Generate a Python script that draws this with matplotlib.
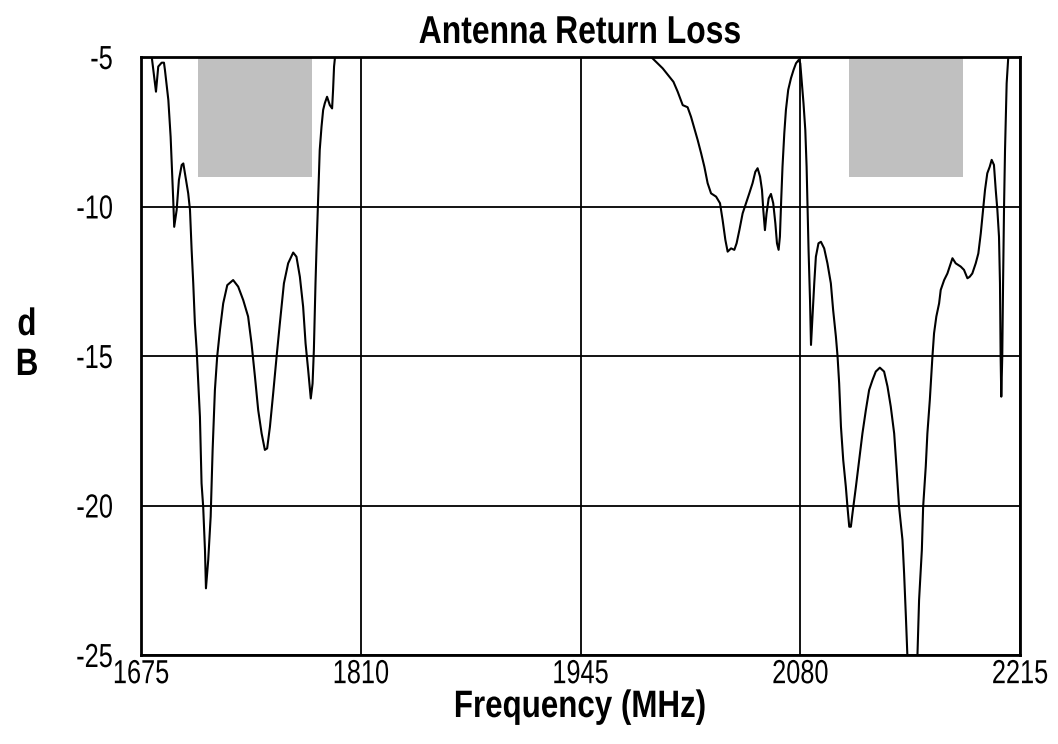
import matplotlib
matplotlib.use("Agg")
import matplotlib.pyplot as plt
from matplotlib import font_manager
from matplotlib.patheffects import AbstractPathEffect
from matplotlib.transforms import Affine2D

# ---- data ----
freq_mhz = [
    1675.0, 1681.6, 1684.2, 1685.6, 1687.7, 1689.1, 1689.7, 1691.8, 1693.2, 1694.8,
    1695.4, 1696.9, 1698.3, 1700.0, 1701.0, 1702.0, 1704.0, 1705.1, 1706.1, 1707.1,
    1708.1, 1709.2, 1711.2, 1712.2, 1713.2, 1714.3, 1714.9, 1716.3, 1717.8, 1719.0,
    1720.4, 1721.8, 1723.5, 1725.5, 1728.0, 1731.6, 1734.7, 1737.8, 1740.8, 1742.9,
    1745.0, 1747.0, 1749.1, 1751.1, 1752.5, 1754.2, 1756.2, 1758.3, 1760.3, 1762.8,
    1765.4, 1768.5, 1770.5, 1772.6, 1774.6, 1776.1, 1777.7, 1779.3, 1780.4, 1781.2,
    1782.2, 1782.8, 1783.8, 1784.8, 1785.9, 1786.9, 1787.9, 1789.3, 1791.0, 1792.4,
    1793.0, 1793.6, 1794.2, 1800.0, 1850.0, 1900.0, 1950.0, 1980.0,
    1988.4, 1991.4, 1995.5, 1999.6, 2002.1, 2004.7, 2007.8, 2010.8, 2012.9, 2014.9,
    2017.0, 2019.1, 2021.1, 2023.1, 2025.2, 2028.3, 2030.7, 2032.3, 2034.0, 2035.4,
    2037.5, 2039.5, 2040.9, 2042.6, 2044.6, 2046.7, 2048.7, 2050.7, 2052.4, 2053.8,
    2055.3, 2056.5, 2057.3, 2058.3, 2059.3, 2060.6, 2062.0, 2063.4, 2064.7, 2065.7,
    2066.7, 2067.5, 2068.3, 2069.1, 2070.2, 2071.2, 2072.6, 2074.3, 2075.9, 2077.4,
    2079.0, 2080.0, 2081.0, 2082.0, 2083.1, 2083.9, 2084.5, 2085.1, 2086.0, 2086.6,
    2087.5, 2088.6, 2089.6, 2091.2, 2092.7, 2094.7, 2096.7, 2098.8, 2100.2, 2101.9,
    2102.9, 2103.9, 2105.0, 2106.4, 2108.0, 2109.0, 2110.1, 2111.1, 2112.1, 2114.2,
    2116.2, 2118.2, 2120.3, 2122.3, 2124.4, 2126.4, 2128.9, 2131.5, 2133.6, 2135.6,
    2137.7, 2139.1, 2140.7, 2142.8, 2143.8, 2144.9, 2145.8, 2148.0, 2150.0, 2152.0,
    2153.0, 2154.7, 2155.5, 2157.1, 2158.1, 2159.6, 2161.2, 2162.2, 2163.6, 2165.3,
    2166.3, 2168.4, 2170.4, 2172.5, 2173.5, 2175.5, 2178.6, 2180.6, 2182.7, 2184.1,
    2185.7, 2187.8, 2189.4, 2190.9, 2192.3, 2193.5, 2194.9, 2196.4, 2197.6, 2199.0,
    2200.1, 2201.1, 2202.1, 2202.7, 2203.1, 2203.5, 2204.1, 2204.6, 2205.2, 2205.8,
    2206.8, 2207.8, 2215.0,
]
return_loss_db = [
    -3.5, -5.00, -6.16, -5.32, -5.19, -5.19, -5.43, -6.44, -7.67, -9.78,
    -10.68, -10.12, -9.11, -8.61, -8.56, -8.89, -9.56, -10.12, -11.45, -12.57,
    -13.90, -14.80, -17.03, -19.26, -20.04, -21.49, -22.77, -21.82, -20.37, -18.14,
    -16.14, -15.02, -14.13, -13.24, -12.63, -12.46, -12.68, -13.13, -13.68, -14.58,
    -15.69, -16.81, -17.59, -18.14, -18.09, -17.37, -16.25, -15.02, -13.91, -12.57,
    -11.90, -11.54, -11.68, -12.35, -13.35, -14.58, -15.47, -16.42, -15.92, -14.80,
    -12.57, -11.45, -9.78, -8.11, -7.33, -6.77, -6.55, -6.33, -6.61, -6.72,
    -6.10, -5.32, -5.00, -3.8, -2.5, -2.0, -3.0, -4.3,
    -5.00, -5.16, -5.38, -5.66, -5.83, -6.16, -6.61, -6.68, -7.00, -7.38,
    -7.78, -8.22, -8.67, -9.22, -9.56, -9.67, -9.89, -10.45, -11.12, -11.51,
    -11.40, -11.45, -11.23, -10.79, -10.23, -9.89, -9.56, -9.22, -8.84, -8.72,
    -9.00, -9.45, -10.12, -10.79, -10.23, -9.73, -9.58, -9.89, -10.56, -11.23,
    -11.45, -11.01, -9.78, -8.67, -7.55, -6.77, -6.10, -5.71, -5.43, -5.21,
    -5.10, -5.21, -5.88, -6.55, -7.44, -8.67, -10.01, -11.45, -13.13, -14.63,
    -13.68, -12.57, -11.68, -11.23, -11.18, -11.40, -11.90, -12.57, -13.46, -14.35,
    -15.00, -15.91, -17.36, -18.48, -19.37, -20.04, -20.71, -20.71, -20.26, -19.37,
    -18.48, -17.59, -16.81, -16.14, -15.80, -15.52, -15.39, -15.52, -16.02, -16.69,
    -17.59, -18.70, -20.04, -21.15, -22.27, -23.72, -25.00, -26.5, -27.0, -25.00,
    -23.16, -21.49, -20.04, -18.70, -17.59, -16.47, -15.02, -14.24, -13.68, -13.24,
    -12.79, -12.46, -12.24, -11.90, -11.73, -11.90, -12.01, -12.12, -12.40, -12.35,
    -12.24, -11.90, -11.57, -10.90, -10.12, -9.45, -8.89, -8.67, -8.44, -8.61,
    -9.45, -10.12, -11.01, -12.57, -15.02, -16.36, -15.02, -12.57, -10.01, -8.11,
    -5.88, -5.00, -4.0,
]
mask_bands = [(1710, 1780), (2110, 2180)]
mask_level = -9
x_ticks = [1675, 1810, 1945, 2080, 2215]
y_ticks = [-5, -10, -15, -20, -25]


# ---- narrow-font emulation (reference uses a condensed face) ----
class Narrow(AbstractPathEffect):
    def __init__(self, sx=0.82, anchor="center"):
        super().__init__()
        self.sx = sx
        self.anchor = anchor

    def draw_path(self, renderer, gc, tpath, affine, rgbFace=None):
        ext = tpath.get_extents(affine)
        if self.anchor == "right":
            x0 = ext.x1
        elif self.anchor == "left":
            x0 = ext.x0
        else:
            x0 = 0.5 * (ext.x0 + ext.x1)
        t = affine + Affine2D().translate(-x0, 0).scale(self.sx, 1).translate(x0, 0)
        renderer.draw_path(gc, tpath, t, rgbFace)


names = {f.name for f in font_manager.fontManager.ttflist}
if "Liberation Sans Narrow" in names:
    fam, SX_T, SX_L = "Liberation Sans Narrow", 1.0, 1.0
else:
    fam, SX_T, SX_L = "Liberation Sans", 0.76, 0.82
plt.rcParams["font.family"] = [fam, "DejaVu Sans"]

tick_fs = 24
title_fs = 28
label_fs = 27.5

fig = plt.figure(figsize=(10.58, 7.44), dpi=100)
W, H = 1058, 744
ax = fig.add_axes([141 / W, 1 - 655 / H, (1020 - 141) / W, (655 - 57) / H])

for lo, hi in mask_bands:
    ax.fill_between([lo, hi], mask_level, y_ticks[0], color="#c0c0c0", lw=0, zorder=1)

ax.plot(freq_mhz, return_loss_db, color="black", lw=1.5, zorder=3)

ax.set_xlim(x_ticks[0], x_ticks[-1])
ax.set_ylim(y_ticks[-1], y_ticks[0])
ax.set_xticks(x_ticks)
ax.set_yticks(y_ticks)
ax.set_xticklabels([str(v) for v in x_ticks], fontsize=tick_fs)
ax.set_yticklabels([str(v) for v in y_ticks], fontsize=tick_fs)
ax.tick_params(axis="both", length=0)
ax.tick_params(axis="y", pad=20)
ax.tick_params(axis="x", pad=3)
for lab in ax.get_xticklabels():
    lab.set_path_effects([Narrow(SX_T, "center")])
for lab in ax.get_yticklabels():
    lab.set_path_effects([Narrow(SX_T, "right")])
ax.grid(True, color="black", lw=1.3, zorder=2)
ax.set_axisbelow(False)
for s in ax.spines.values():
    s.set_linewidth(2)
    s.set_color("black")
    s.set_zorder(4)

t1 = fig.text(580 / W, 1 - 43 / H, "Antenna Return Loss", ha="center", va="baseline",
              fontsize=title_fs, fontweight="bold")
t2 = fig.text(580 / W, 1 - 717 / H, "Frequency (MHz)", ha="center", va="baseline",
              fontsize=label_fs, fontweight="bold")
t3 = fig.text(27 / W, 1 - 335 / H, "d", ha="center", va="baseline",
              fontsize=label_fs, fontweight="bold")
t4 = fig.text(27 / W, 1 - 375 / H, "B", ha="center", va="baseline",
              fontsize=label_fs, fontweight="bold")
for t in (t1, t2, t3, t4):
    t.set_path_effects([Narrow(SX_L, "center")])

fig.savefig("out.png", dpi=100)
